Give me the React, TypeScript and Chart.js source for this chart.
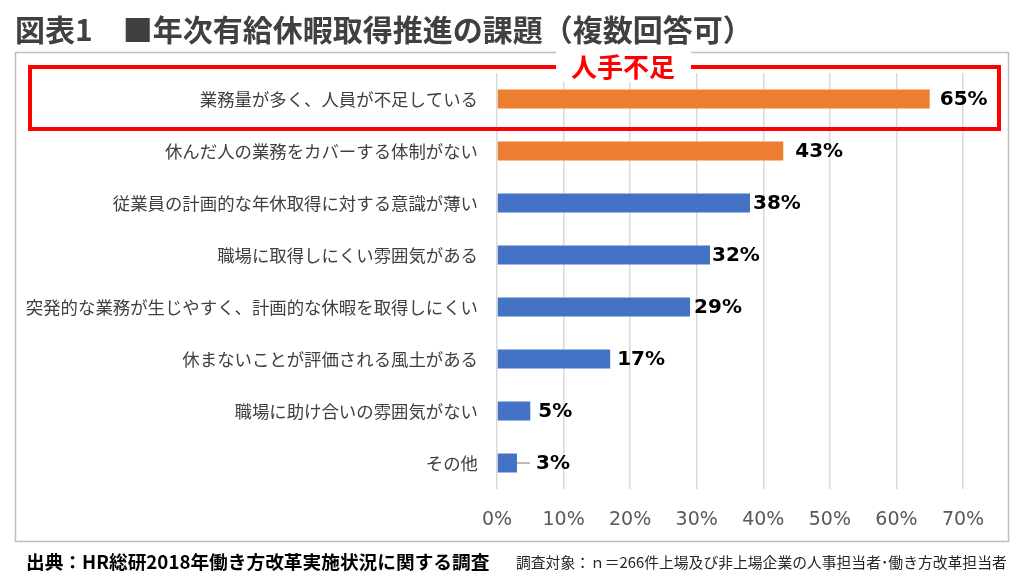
import React, { useEffect, useRef } from "react";
import { Chart, registerables } from "chart.js";

Chart.register(...registerables);

const categories = [
  "業務量が多く、人員が不足している",
  "休んだ人の業務をカバーする体制がない",
  "従業員の計画的な年休取得に対する意識が薄い",
  "職場に取得しにくい雰囲気がある",
  "突発的な業務が生じやすく、計画的な休暇を取得しにくい",
  "休まないことが評価される風土がある",
  "職場に助け合いの雰囲気がない",
  "その他",
];
const values = [65, 43, 38, 32, 29, 17, 5, 3];
const highlighted = [true, true, false, false, false, false, false, false];
const xTicks = [0, 10, 20, 30, 40, 50, 60, 70];
const titleText = "図表1　■年次有給休暇取得推進の課題（複数回答可）";
const highlightLabel = "人手不足";
const sourceText = "出典：HR総研2018年働き方改革実施状況に関する調査";
const noteText = "調査対象：ｎ＝266件上場及び非上場企業の人事担当者･働き方改革担当者";

// styling: gap between each bar's end and its value label (px)
const labelGaps = [10, 12, 3, 2, 4, 7, 8, 19];

const ORANGE = "#ED7D31";
const BLUE = "#4472C4";
const JP = '"Noto Sans CJK JP", "Noto Sans", sans-serif';

const framePlugin = {
  id: "frame",
  beforeDraw(chart: any) {
    const ctx = chart.ctx;
    ctx.save();
    ctx.fillStyle = "#ffffff";
    ctx.fillRect(0, 0, chart.width, chart.height);
    ctx.strokeStyle = "#BFBFBF";
    ctx.lineWidth = 1.5;
    ctx.strokeRect(15.5, 52.5, 993, 489);
    ctx.restore();
  },
  afterDraw(chart: any) {
    const ctx = chart.ctx;
    ctx.save();
    ctx.strokeStyle = "#FF0000";
    ctx.lineWidth = 4;
    ctx.strokeRect(30, 67, 969, 62);
    ctx.fillStyle = "#ffffff";
    ctx.fillRect(556, 50, 135, 32);
    ctx.fillStyle = "#FF0000";
    ctx.font = `bold 26px ${JP}`;
    ctx.textAlign = "center";
    ctx.textBaseline = "middle";
    ctx.fillText(highlightLabel, 623, 67);
    ctx.restore();
  },
};

const labelPlugin = {
  id: "barLabels",
  afterDatasetsDraw(chart: any) {
    const ctx = chart.ctx;
    const meta = chart.getDatasetMeta(0);
    ctx.save();
    ctx.font = 'bold 20px "DejaVu Sans", sans-serif';
    ctx.fillStyle = "#000000";
    ctx.textAlign = "left";
    ctx.textBaseline = "middle";
    meta.data.forEach((bar: any, i: number) => {
      const v = values[i];
      const gap = labelGaps[i] ?? 8;
      if (i === values.length - 1) {
        // leader line for the small last bar
        ctx.strokeStyle = "#A6A6A6";
        ctx.lineWidth = 1.5;
        ctx.beginPath();
        ctx.moveTo(bar.x, bar.y);
        ctx.lineTo(bar.x + 13, bar.y);
        ctx.stroke();
      }
      ctx.fillText(`${v}%`, bar.x + gap, bar.y + 1);
    });
    ctx.restore();
  },
};

export default function App() {
  const ref = useRef<HTMLCanvasElement | null>(null);

  useEffect(() => {
    document.body.style.margin = "0";
    if (!ref.current) return;
    const chart = new Chart(ref.current, {
      type: "bar",
      data: {
        labels: categories,
        datasets: [
          {
            data: values,
            backgroundColor: highlighted.map((h) => (h ? ORANGE : BLUE)),
            borderWidth: 0,
            categoryPercentage: 1,
            barPercentage: 0.365,
          },
        ],
      },
      options: {
        indexAxis: "y",
        animation: false,
        responsive: false,
        maintainAspectRatio: false,
        devicePixelRatio: 1,
        layout: { padding: { left: 0, right: 61, top: 73, bottom: 0 } },
        plugins: {
          legend: { display: false },
          tooltip: { enabled: false },
        },
        scales: {
          x: {
            min: xTicks[0],
            max: xTicks[xTicks.length - 1],
            afterBuildTicks: (scale: any) => {
              scale.ticks = xTicks.map((v) => ({ value: v }));
            },
            afterFit: (scale: any) => {
              scale.height = 95;
            },
            ticks: {
              callback: (v: any) => `${v}%`,
              color: "#595959",
              font: { family: '"DejaVu Sans", sans-serif', size: 19 },
              padding: 20,
              maxRotation: 0,
            },
            grid: { color: "#D9D9D9", lineWidth: 1.5, drawTicks: false },
            border: { display: false },
          },
          y: {
            afterFit: (scale: any) => {
              scale.width = 497;
            },
            ticks: {
              color: "#404040",
              font: { family: JP, size: 17.4 },
              padding: 19,
              autoSkip: false,
            },
            grid: { display: false, drawTicks: false },
            border: { display: false },
          },
        },
      } as any,
      plugins: [framePlugin, labelPlugin],
    });
    return () => chart.destroy();
  }, []);

  return (
    <div
      style={{
        position: "absolute",
        left: 0,
        top: 0,
        width: 1024,
        height: 584,
        background: "#ffffff",
        overflow: "hidden",
      }}
    >
      <canvas
        ref={ref}
        width={1024}
        height={584}
        style={{ position: "absolute", left: 0, top: 0, width: 1024, height: 584 }}
      />
      <div
        style={{
          position: "absolute",
          left: 15,
          top: 8,
          fontFamily: JP,
          fontWeight: 700,
          fontSize: 30,
          lineHeight: "40px",
          color: "#404040",
          whiteSpace: "nowrap",
        }}
      >
        {titleText}
      </div>
      <div
        style={{
          position: "absolute",
          left: 26,
          top: 548,
          fontFamily: JP,
          fontWeight: 700,
          fontSize: 18.7,
          lineHeight: "26px",
          color: "#000000",
          whiteSpace: "nowrap",
        }}
      >
        {sourceText}
      </div>
      <div
        style={{
          position: "absolute",
          left: 516,
          top: 551,
          fontFamily: JP,
          fontSize: 14.8,
          lineHeight: "22px",
          color: "#262626",
          whiteSpace: "nowrap",
        }}
      >
        {noteText}
      </div>
    </div>
  );
}
